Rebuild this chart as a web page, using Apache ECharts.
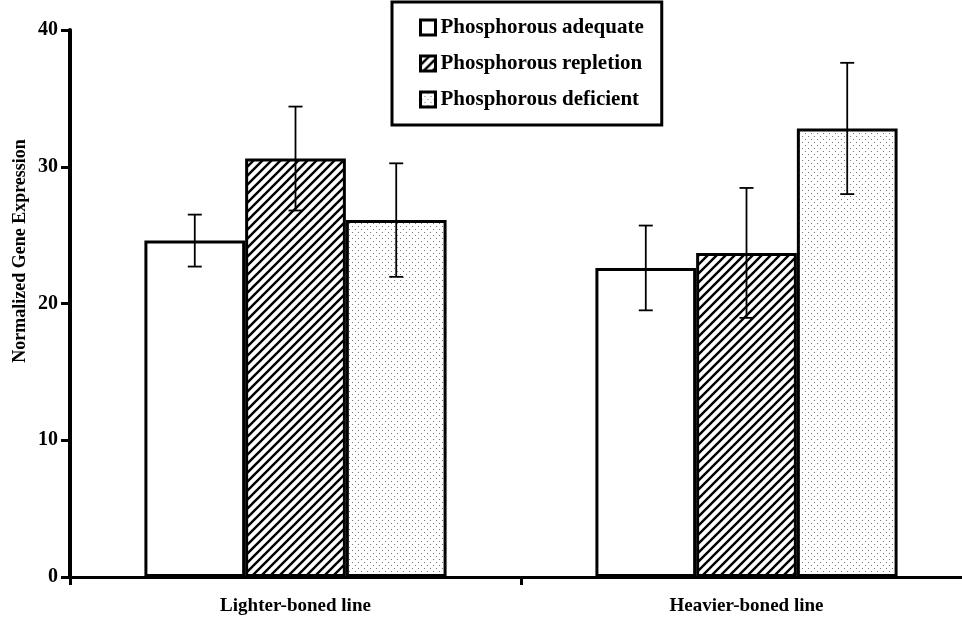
<!DOCTYPE html>
<html>
<head>
<meta charset="utf-8">
<script src="https://cdn.jsdelivr.net/npm/echarts@6/dist/echarts.min.js"></script>
<style>
  html, body { margin: 0; padding: 0; background: #fff; }
  #chart { width: 962px; height: 620px; }
</style>
</head>
<body>
<div id="chart"></div>
<script>
// data
const categories = ['Lighter-boned line', 'Heavier-boned line']
const seriesNames = ['Phosphorous adequate', 'Phosphorous repletion', 'Phosphorous deficient']
const adequate = [24.6, 22.6]
const repletion = [30.6, 23.7]
const deficient = [26.1, 32.8]
const adequateErr = [1.9, 3.1]
const repletionErr = [3.8, 4.75]
const deficientErr = [4.15, 4.8]
const yTicks = [0, 10, 20, 30, 40]

const FONT = '"Liberation Serif", "Times New Roman", serif'
const CAT_GAP = 0.33

// fill patterns
const makeHatch = () => {
  const c = document.createElement('canvas')
  c.width = 9; c.height = 9
  const ctx = c.getContext('2d')
  ctx.fillStyle = '#fff'
  ctx.fillRect(0, 0, 9, 9)
  ctx.strokeStyle = '#000'
  ctx.lineWidth = 2.4
  ctx.beginPath()
  ctx.moveTo(-1, 10); ctx.lineTo(10, -1)
  ctx.moveTo(-5.5, 5.5); ctx.lineTo(5.5, -5.5)
  ctx.moveTo(3.5, 14.5); ctx.lineTo(14.5, 3.5)
  ctx.stroke()
  return c
}
const makeDots = () => {
  const c = document.createElement('canvas')
  c.width = 6; c.height = 6
  const ctx = c.getContext('2d')
  ctx.fillStyle = '#fff'
  ctx.fillRect(0, 0, 6, 6)
  ctx.fillStyle = '#777'
  ctx.fillRect(1, 1, 1, 1)
  ctx.fillRect(4, 4, 1, 1)
  return c
}

const fills = ['#fff', { image: makeHatch(), repeat: 'repeat' }, { image: makeDots(), repeat: 'repeat' }]
const values = [adequate, repletion, deficient]
const errors = [adequateErr, repletionErr, deficientErr]

const barSeries = seriesNames.map((name, i) => ({
  name,
  type: 'bar',
  data: values[i],
  barGap: '0%',
  barCategoryGap: (CAT_GAP * 100) + '%',
  itemStyle: { color: fills[i], borderColor: '#000', borderWidth: 3 },
  emphasis: { disabled: true }
}))

// error bars drawn on top of the grouped bars
const errorSeries = seriesNames.map((name, i) => ({
  name: name + ' error',
  type: 'custom',
  z: 5,
  data: values[i].map((v, k) => [k, v - errors[i][k], v + errors[i][k]]),
  renderItem: (params, api) => {
    const low = api.coord([api.value(0), api.value(1)])
    const high = api.coord([api.value(0), api.value(2)])
    const band = api.size([1, 0])[0]
    const barW = band * (1 - CAT_GAP) / 3
    const x = low[0] + (i - 1) * barW
    const cap = 7
    const style = { stroke: '#000', lineWidth: 1.8 }
    return {
      type: 'group',
      children: [
        { type: 'line', shape: { x1: x, y1: high[1], x2: x, y2: low[1] }, style },
        { type: 'line', shape: { x1: x - cap, y1: high[1], x2: x + cap, y2: high[1] }, style },
        { type: 'line', shape: { x1: x - cap, y1: low[1], x2: x + cap, y2: low[1] }, style }
      ]
    }
  }
}))

const chart = echarts.init(document.getElementById('chart'))
chart.setOption({
  animation: false,
  backgroundColor: '#fff',
  grid: { left: 70, top: 30, width: 902, height: 547, outerBoundsMode: 'none', containLabel: false },
  legend: {
    data: seriesNames,
    orient: 'vertical',
    left: 392,
    top: 2,
    padding: [15, 18, 15, 27],
    icon: 'rect',
    itemGap: 15,
    itemWidth: 15,
    itemHeight: 15,
    itemStyle: { borderWidth: 3, borderColor: '#000' },
    borderColor: '#000',
    borderWidth: 3,
    selectedMode: false,
    textStyle: { fontFamily: FONT, fontWeight: 'bold', fontSize: 21, color: '#000', lineHeight: 21 }
  },
  graphic: [{
    type: 'text',
    x: 20,
    y: 251,
    rotation: Math.PI / 2,
    style: {
      text: 'Normalized Gene Expression',
      fontFamily: FONT,
      fontWeight: 'bold',
      fontSize: 18,
      fill: '#000',
      align: 'center',
      verticalAlign: 'middle'
    }
  }],
  xAxis: {
    type: 'category',
    data: categories,
    axisLine: { lineStyle: { color: '#000', width: 3 } },
    axisTick: { show: true, length: 8, lineStyle: { color: '#000', width: 3 } },
    axisLabel: { margin: 20, fontFamily: FONT, fontWeight: 'bold', fontSize: 19, color: '#000' }
  },
  yAxis: {
    type: 'value',
    min: yTicks[0],
    max: yTicks[yTicks.length - 1],
    interval: 10,
    splitLine: { show: false },
    axisLine: { show: true, lineStyle: { color: '#000', width: 4 } },
    axisTick: { show: true, length: 9, lineStyle: { color: '#000', width: 3 } },
    axisLabel: { margin: 12, fontFamily: FONT, fontWeight: 'bold', fontSize: 20, color: '#000' }
  },
  series: [...barSeries, ...errorSeries]
})
</script>
</body>
</html>
